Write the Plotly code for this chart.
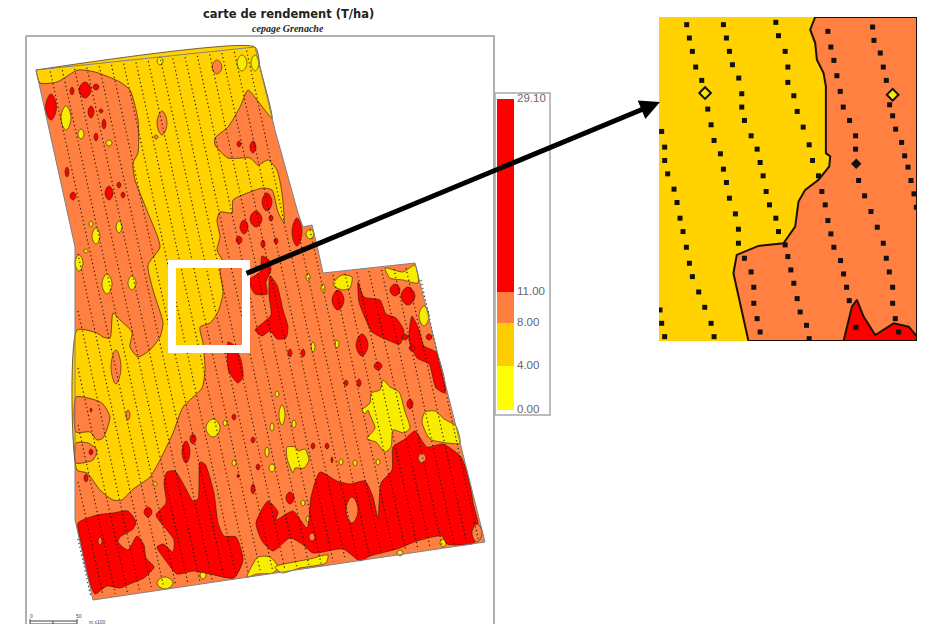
import plotly.graph_objects as go

ORANGE, GOLD, RED, YELLOW = "#FF8040", "#FFD200", "#FF0000", "#F8EC00"
EDGE = "rgba(50,25,0,0.75)"

field = [(36,70),(255,47),(275,130),(298,213),(303,227),(312,225),(318,250),(323,273),(415,263),(485,542),(93,600),(75,520),(75,247)]

gold_main = [(36,70),(255,47),(260,67),(272,118),(257,100),(248,90),(240,107),(228,127),(215,138),(215,145),(228,158),(250,158),(258,165),(268,160),(277,170),(282,193),(284,223),(278,212),(272,190),(263,188),(250,192),(233,200),(232,213),(220,212),(217,220),(220,237),(217,250),(222,260),(220,270),(223,293),(218,312),(210,323),(200,327),(203,343),(205,370),(202,388),(183,407),(173,433),(160,460),(150,477),(132,490),(122,500),(113,500),(100,490),(87,473),(77,470),(77,330),(97,333),(103,337),(110,338),(113,313),(120,320),(132,332),(130,347),(138,357),(150,350),(160,337),(163,323),(153,290),(148,265),(160,247),(148,213),(135,180),(133,163),(138,153),(138,120),(130,90),(120,82),(95,72),(78,70),(57,82),(40,83),(36,70)]
orange_lobe_a = [(76,397),(88,398),(102,403),(110,417),(103,438),(97,440),(90,432),(76,432)]
orange_lobe_b = [(76,443),(88,443),(97,450),(93,460),(76,463)]

yellow_polys = [
 [(385,268),(403,272),(415,265),(418,283),(403,280),(390,278)],
 [(333,283),(342,275),(352,277),(350,288),(343,290),(335,287)],
 [(383,380),(390,387),(399,392),(405,412),(410,428),(404,433),(393,430),(391,447),(385,452),(376,442),(367,439),(375,428),(370,415),(368,410),(365,414),(362,410),(370,403),(371,393),(380,390)],
 [(422,422),(425,412),(435,411),(444,419),(456,426),(460,443),(447,443),(430,439)],
 [(287,447),(295,447),(298,451),(305,449),(309,460),(304,468),(295,468),(293,473),(287,458)],
 [(247,577),(258,557),(270,557),(278,567),(273,573),(257,574)],
 [(275,567),(310,559),(328,555),(326,563),(300,568),(282,573)],
]
red_polys = [
 [(78,523),(97,515),(113,513),(128,511),(136,522),(133,529),(120,537),(118,542),(128,550),(137,536),(144,545),(146,558),(154,567),(144,578),(132,583),(120,588),(107,586),(95,594),(89,580),(84,560),(81,543)],
 [(167,472),(175,471),(185,487),(193,501),(198,499),(200,462),(205,464),(214,493),(218,523),(224,536),(236,537),(243,560),(234,578),(210,574),(193,571),(177,574),(166,561),(157,547),(163,544),(173,552),(174,540),(166,529),(156,515),(166,503),(164,483)],
 [(256,523),(268,501),(278,512),(276,520),(293,511),(307,528),(311,497),(320,472),(337,481),(350,484),(365,481),(373,497),(378,518),(381,483),(392,470),(393,447),(405,439),(415,431),(427,447),(443,444),(461,457),(469,480),(474,507),(478,523),(474,543),(447,544),(442,536),(417,541),(397,549),(370,556),(360,561),(343,549),(313,553),(302,544),(290,538),(273,551),(262,541)],
 [(358,282),(364,297),(380,300),(386,314),(396,318),(404,331),(400,344),(385,339),(372,332),(365,318),(359,302)],
 [(412,316),(419,330),(424,346),(436,352),(444,377),(445,393),(436,388),(429,364),(417,358),(409,340)],
 [(270,276),(277,285),(283,310),(288,327),(286,338),(277,339),(270,331),(262,336),(255,330),(264,322),(271,315),(269,295)],
 [(262,256),(269,260),(271,270),(266,282),(267,294),(255,294),(249,280),(260,272)],
 [(228,342),(234,345),(241,360),(243,377),(238,383),(229,372),(227,353)],
]
# centre x, centre y, half width, half height
orange_spots = [(217,67,5,7),(162,123,5,12),(156,137,2,2),(116,367,5,17),(128,415,2,5),(352,510,6,13),(422,458,4,5),(312,537,3,4),(477,533,5,9),(100,541,2,4)]
yellow_spots = [(66,118,5,12),(81,134,3,5),(109,143,3,3),(91,224,2,3),(96,236,4,8),(119,227,3,6),(107,284,5,10),(132,283,4,7),(79,263,4,8),(86,251,2,2),(242,63,5,8),(255,63,4,8),(308,277,2,4),(310,234,4,5),(160,61,3,4),(213,428,7,9),(225,423,2,3),(272,427,2,4),(267,452,2,5),(272,468,3,4),(234,463,2,3),(155,484,2,2),(165,583,8,6),(203,575,3,4),(424,316,5,10),(282,415,3,10),(323,288,2,4),(294,424,2,4),(313,347,2,5),(337,344,2,4),(277,394,2,3),(341,462,2,3),(355,463,2,3),(378,462,2,3),(303,503,2,3),(308,519,2,3),(443,543,3,4),(400,553,3,3),(478,533,3,5)]
red_spots = [(51,107,5.5,13),(85,90,6,8),(72,91,2,4),(96,87,3,3),(91,112,3,6),(101,111,2,2),(104,124,2,5),(96,137,2,4),(67,172,2,5),(73,196,3,4),(109,193,4,7),(119,185,2,3),(123,195,2,3),(253,147,3,6),(239,144,2,3),(267,202,5,9),(256,219,6,8),(244,227,4,7),(271,218,2,3),(239,240,3,4),(263,244,2,4),(276,241,2,3),(297,232,5,14),(186,452,4,11),(193,439,3,5),(234,417,2,3),(253,440,2,3),(253,489,2,5),(258,467,2,3),(238,476,1,2),(91,452,2,3),(91,410,1,2),(86,478,2,4),(148,512,4,5),(405,337,3,3),(429,337,3,3),(412,348,3,3),(408,296,7,9),(395,290,5,6),(338,300,6,10),(362,345,6,11),(378,366,4,4),(290,498,4,6),(290,353,2,4),(303,353,2,4),(346,383,2,3),(359,383,2,4),(410,404,3,5),(313,446,2,3),(327,446,2,3),(332,460,1,3)]

row_top_x = [78,78,78,78,78,78,50.3,62.3,74.6,86.9,99.2,111.5,123.7,136,148.3,160.6,172.9,185.1,197.4,209.7,222,234.3,246.6,298,310,333,345,357,369,381.5,394,406,421]
row_top_y = [539,482,425,368,311,254,71.5,70.2,68.9,67.6,66.3,65,63.7,62.4,61.1,59.8,58.5,57.1,55.8,54.5,53.2,51.9,50.6,231,230,275,273.6,272.4,271.2,270,269,268,280]
row_bot_x = [91,103.1,115.2,127.3,139.4,151.5,163.6,175.7,187.8,199.9,212,224.2,236.3,248.4,260.5,272.6,284.7,296.8,308.9,321,333.1,345.2,357.3,369.4,381.6,393.7,405.8,417.9,430,442.1,454.2,466.3,478.4]
row_bot_y = [597,595.5,593.7,591.9,590.1,588.3,586.5,584.8,583,581.2,579.4,577.6,575.8,574,572.2,570.4,568.6,566.8,565,563.3,561.5,559.7,557.9,556.1,554.3,552.5,550.7,548.9,547.1,545.4,543.6,541.8,540]

legend_edges = [99,292,323,366,410]
legend_colors = [RED,"#FF7F3F","#FFCC00","#FFFF00"]
legend_labels = ["29.10","11.00","8.00","4.00","0.00"]

inset_orange = [(480,22),(465,60),(480,100),(485,150),(505,190),(512,230),(512,430),(525,440),(522,470),(490,510),(450,540),(430,575),(420,650),(385,700),(310,708),(245,735),(235,790),(250,860),(280,993),(785,993),(785,22)]
inset_red = [(565,993),(590,890),(605,870),(625,920),(660,975),(715,940),(760,950),(785,980),(785,993)]
inset_rows = [
 [(95,45),(103,85),(112,125),(122,172),(140,212),(158,298),(168,345),(177,392),(196,432),(205,478),(214,518),(223,565),(241,612),(250,658),(250,700),(268,745),(288,786),(296,832),(296,880),(306,926),(315,966)],
 [(205,45),(214,85),(223,125),(232,165),(251,205),(260,252),(260,292),(268,332),(288,378),(306,418),(315,458),(324,498),(333,545),(343,585),(362,625),(370,665),(390,705),(398,740),(407,780),(416,820),(426,866),(435,906),(454,946),(462,986)],
 [(362,38),(370,78),(390,125),(398,172),(398,218),(416,258),(426,305),(444,352),(462,405),(472,452),(490,498),(500,545),(510,585),(518,632),(527,672),(536,712),(556,752),(565,792),(574,832),(582,872),(602,952)],
 [(518,65),(527,112),(536,152),(545,198),(555,245),(564,292),(583,332),(601,378),(601,418),(610,512),(628,558),(647,605),(666,652),(684,700),(693,745),(702,786),(712,832),(712,880),(720,926),(730,966)],
 [(652,52),(656,92),(675,130),(684,172),(693,212),(703,285),(712,318),(721,358),(739,398),(748,438),(758,472),(767,512),(776,552),(783,592)],
 [(20,365),(29,412),(29,452),(38,492),(57,538),(66,578),(75,625),(84,665),(94,712),(103,760),(112,800),(131,846),(149,892),(168,940),(177,980)],
 [(15,900),(20,940),(29,980)],
]
inset_spots_x, inset_spots_y = [150,712], [250,255]
inset_black_x, inset_black_y = [603], [462]

fig = go.Figure()

def poly(points, fill, line=None, width=0.8, smooth=0.6, axes=("x","y")):
    xs = [p[0] for p in points] + [points[0][0]]
    ys = [p[1] for p in points] + [points[0][1]]
    fig.add_trace(go.Scatter(x=xs, y=ys, mode="lines", fill="toself" if fill else None,
        fillcolor=fill, xaxis=axes[0], yaxis=axes[1], hoverinfo="skip",
        line=dict(color=line or "rgba(0,0,0,0)", width=width,
                  shape="spline" if smooth else "linear", smoothing=smooth or 0)))

def spots(items, fill):
    xs, ys = [], []
    for cx, cy, rx, ry in items:
        xs += [cx, cx+rx, cx, cx-rx, cx, None]
        ys += [cy-ry, cy, cy+ry, cy, cy-ry, None]
    fig.add_trace(go.Scatter(x=xs, y=ys, mode="lines", fill="toself", fillcolor=fill, hoverinfo="skip",
        line=dict(color=EDGE, width=0.8, shape="spline", smoothing=1.3)))

# page frame
poly([(26,36),(494,36),(494,640),(26,640)], None, "#B0B0B0", 2, 0)
# field
poly(field, ORANGE, None, 0, 0)
poly(gold_main, GOLD, EDGE, 0.9)
poly(orange_lobe_a, ORANGE, EDGE, 0.9)
poly(orange_lobe_b, ORANGE, EDGE, 0.9)
spots(orange_spots[:5], ORANGE)
for p in yellow_polys:
    poly(p, YELLOW, EDGE, 0.8)
spots(yellow_spots, YELLOW)
for p in red_polys:
    poly(p, RED, EDGE, 0.8)
spots(red_spots, RED)
spots(orange_spots[5:], ORANGE)
# sampling rows
for a, b, c, d in zip(row_top_x, row_top_y, row_bot_x, row_bot_y):
    fig.add_trace(go.Scatter(x=[a,c], y=[b,d], mode="lines", hoverinfo="skip",
        line=dict(color="rgba(25,15,0,0.9)", width=1.2, dash="1.2px,2.8px")))
poly(field, None, "#808088", 1, 0)

# legend
poly([(495,93),(550,93),(550,415),(495,415)], "white", "#A8A8A8", 1.5, 0)
for top, bot, col in zip(legend_edges[:-1], legend_edges[1:], legend_colors):
    poly([(497,top),(514,top),(514,bot),(497,bot)], col, None, 0, 0)
fig.add_trace(go.Scatter(x=[517]*5, y=legend_edges, mode="text", text=legend_labels, textposition="middle right",
    hoverinfo="skip", textfont=dict(family="Liberation Sans", size=11.5, color="#666666")))

# inset
ia = ("x2","y2")
poly([(12,22),(785,22),(785,993),(12,993)], GOLD, None, 0, 0, ia)
poly(inset_orange, ORANGE, "#201000", 2, 0, ia)
poly(inset_red, RED, "#201000", 2, 0, ia)
fig.add_trace(go.Scatter(x=[p[0] for r in inset_rows for p in r], y=[p[1] for r in inset_rows for p in r],
    xaxis="x2", yaxis="y2", mode="markers", hoverinfo="skip",
    marker=dict(symbol="square", size=5, color="#111111")))
fig.add_trace(go.Scatter(x=inset_spots_x, y=inset_spots_y, xaxis="x2", yaxis="y2", mode="markers", hoverinfo="skip",
    marker=dict(symbol="diamond", size=9, color="#F8EC00", line=dict(color="#111111", width=2))))
fig.add_trace(go.Scatter(x=inset_black_x, y=inset_black_y, xaxis="x2", yaxis="y2", mode="markers", hoverinfo="skip",
    marker=dict(symbol="diamond", size=8, color="#111111")))

ax = dict(visible=False, showgrid=False, zeroline=False, fixedrange=True)
fig.update_layout(
    width=927, height=624, margin=dict(l=0,r=0,t=0,b=0), showlegend=False,
    plot_bgcolor="white", paper_bgcolor="white",
    xaxis=dict(range=[0,927], domain=[0,1], **ax),
    yaxis=dict(range=[624,0], domain=[0,1], **ax),
    xaxis2=dict(range=[12,785], domain=[659/927,917/927], anchor="y2", **ax),
    yaxis2=dict(range=[993,22], domain=[1-341/624,1-17/624], anchor="x2", **ax),
    shapes=[
        dict(type="rect", x0=172, x1=246, y0=264, y1=349, xref="x", yref="y", line=dict(color="white", width=8)),
        dict(type="line", x0=30, x1=77, y0=621, y1=621, xref="x", yref="y", line=dict(color="#444", width=1)),
        dict(type="line", x0=30, x1=77, y0=624, y1=624, xref="x", yref="y", line=dict(color="#444", width=1)),
        dict(type="line", x0=53, x1=53, y0=621, y1=624, xref="x", yref="y", line=dict(color="#444", width=1)),
        dict(type="line", x0=30, x1=30, y0=619, y1=624, xref="x", yref="y", line=dict(color="#444", width=1)),
        dict(type="line", x0=77, x1=77, y0=619, y1=624, xref="x", yref="y", line=dict(color="#444", width=1)),
    ],
    annotations=[
        dict(x=660, y=102, ax=245, ay=274, xref="x", yref="y", axref="x", ayref="y", text="", showarrow=True,
             arrowhead=2, arrowsize=0.8, arrowwidth=5, arrowcolor="black"),
        dict(x=288, y=14, xref="x", yref="y", text="<b>carte de rendement (T/ha)</b>", showarrow=False,
             font=dict(family="DejaVu Sans", size=11.5, color="#222")),
        dict(x=288, y=28, xref="x", yref="y", text="<b><i>cepage Grenache</i></b>", showarrow=False,
             font=dict(family="Liberation Serif", size=10, color="#222")),
        dict(x=31, y=616, xref="x", yref="y", text="0", showarrow=False, font=dict(family="Liberation Sans", size=5, color="#444")),
        dict(x=79, y=616, xref="x", yref="y", text="50", showarrow=False, font=dict(family="Liberation Sans", size=5, color="#444")),
        dict(x=97, y=622, xref="x", yref="y", text="m x100", showarrow=False, font=dict(family="Liberation Sans", size=5, color="#444")),
    ],
)
fig.write_html("out.html", config=dict(displayModeBar=False),
               post_script="document.body.style.margin='0';document.body.style.overflow='hidden';")
